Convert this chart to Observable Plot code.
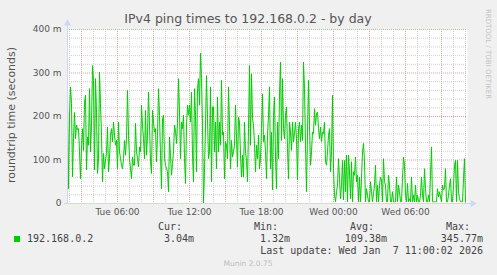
<!DOCTYPE html>
<html><head><meta charset="utf-8">
<script src="https://cdn.jsdelivr.net/npm/d3@7"></script>
<script src="https://cdn.jsdelivr.net/npm/@observablehq/plot@0.6"></script>
<style>
html,body{margin:0;padding:0;background:#f0f0f0;}
#c{position:relative;width:497px;height:275px;overflow:hidden;font-family:"DejaVu Sans",sans-serif;color:#555;}
#c svg{position:absolute;left:0;top:0;}
.t{position:absolute;white-space:pre;line-height:1;}
.m{font-family:"DejaVu Sans Mono",monospace;font-size:10px;color:#444;}
</style></head><body><div id="c"></div>
<script>
const title = "IPv4 ping times to 192.168.0.2 - by day";
const yLabel = "roundtrip time (seconds)";
const seriesName = "192.168.0.2";
const startTime = "2026-01-06T01:50:00Z";
const endTime = "2026-01-07T11:10:00Z";
const stepMinutes = 5;
// roundtrip times in milliseconds, one sample per 5 minutes
const rttMs = [
226,34,200,268,230,61,150,209,149,180,170,172,120,57,130,172,122,233,249,77,153,134,264,119,180,317,283,77,287,210,69,103,302,230,157,50,115,80,100,115,176,73,103,157,172,142,187,157,134,145,80,187,119,103,88,80,103,145,111,149,260,157,103,80,57,107,88,
88,184,119,103,84,130,119,226,180,149,103,214,111,157,256,180,96,69,214,187,164,172,96,157,264,203,111,34,195,203,103,88,80,73,27,153,111,65,92,119,180,168,138,187,287,210,103,187,172,203,103,46,180,226,203,226,187,256,111,50,264,203,73,264,287,226,346,287,
180,1.32,80,180,294,195,103,119,268,50,222,222,119,187,80,245,119,187,134,283,157,164,57,142,134,103,268,180,80,145,107,119,134,226,149,84,199,187,111,61,111,61,187,119,99,50,172,317,134,298,195,180,138,73,134,103,157,80,103,172,252,142,157,119,57,157,203,268,
80,164,31,203,245,107,34,187,103,252,325,145,287,172,149,203,222,126,57,187,164,122,187,142,161,187,149,54,172,187,142,180,145,325,264,134,27,164,283,180,88,119,164,161,218,180,207,210,172,149,176,142,164,161,187,96,88,119,157,172,73,119,249,80,19,4,27,42,
103,57,11,42,99,8,99,27,111,4,111,73,11,96,4,73,65,107,50,65,4,61,4,57,119,138,96,4,34,19,4,4,50,27,4,23,42,88,4,42,4,42,61,54,4,103,50,42,4,4,65,42,4,4,27,4,4,4,61,4,42,27,4,4,57,107,88,19,
4,46,4,11,4,61,4,19,4,42,4,19,4,4,19,61,19,4,80,34,4,4,19,4,65,130,4,4,4,4,4,34,15,27,15,4,42,31,34,80,4,4,19,42,57,4,4,42,88,99,4,99,27,11,4,4,4,57,103,3.04
];
const yTicks = [0, 100, 200, 300, 400];
const yTickLabels = ["0", "100 m", "200 m", "300 m", "400 m"];
const xTickTimes = ["2026-01-06T06:00:00Z", "2026-01-06T12:00:00Z", "2026-01-06T18:00:00Z", "2026-01-07T00:00:00Z", "2026-01-07T06:00:00Z"];
const xTickLabels = ["Tue 06:00", "Tue 12:00", "Tue 18:00", "Wed 00:00", "Wed 06:00"];
const statLabels = ["Cur:", "Min:", "Avg:", "Max:"];
const statValues = ["3.04m", "1.32m", "109.38m", "345.77m"];
const lastUpdate = "Last update: Wed Jan  7 11:00:02 2026";
const footer = "Munin 2.0.75";
const credit = "RRDTOOL / TOBI OETIKER";

const t0 = new Date(startTime), t1 = new Date(endTime);
const data = rttMs.map((v, i) => ({time: new Date(+t0 + i * stepMinutes * 60000), v}));
const xTicks = xTickTimes.map(d => new Date(d));
const minorY = d3.range(20, 401, 20).filter(v => v % 100 !== 0);
const majorY = yTicks.filter(v => v > 0);
const hours = d3.utcHour.range(t0, t1);
const minorX = hours.filter(d => d.getUTCHours() % 3 !== 0);
const majorX = hours.filter(d => d.getUTCHours() % 3 === 0);
const axisColor = "#CFD6F8";

const chart = Plot.plot({
  width: 497, height: 275,
  marginLeft: 67, marginRight: 30, marginTop: 29, marginBottom: 72,
  style: {background: "transparent", fontFamily: "DejaVu Sans", fontSize: "9px", color: "#555", overflow: "visible"},
  x: {type: "utc", domain: [t0, t1], axis: null},
  y: {domain: [0, 400], axis: null},
  marks: [
    Plot.frame({fill: "white", stroke: null}),
    Plot.ruleY(minorY, {stroke: "#cfcfcf", strokeDasharray: "1,1"}),
    Plot.ruleX(minorX, {stroke: "#cfcfcf", strokeDasharray: "1,1"}),
    Plot.ruleY(majorY, {stroke: "#e8a0a0", strokeDasharray: "1,1"}),
    Plot.ruleX(majorX, {stroke: "#e8a0a0", strokeDasharray: "1,1"}),
    Plot.line(data, {x: "time", y: "v", stroke: "#00cc00", strokeWidth: 1}),
    Plot.ruleX([t0], {y1: 0, y2: 414, stroke: axisColor}),
    Plot.ruleY([0], {x1: new Date(+t0 - 15 * 60000), x2: new Date(+t1 + 25 * 60000), stroke: axisColor}),
    Plot.dot([t0], {x: d => d, y: () => 414, symbol: "triangle", r: 2.6, fill: axisColor, stroke: null}),
    Plot.dot([t1], {x: d => new Date(+d + 27 * 60000), y: () => 0, symbol: "triangle", rotate: 90, r: 2.6, fill: axisColor, stroke: null}),
    Plot.axisY(yTicks, {anchor: "left", tickSize: 0, tickPadding: 6, label: null, tickFormat: d => yTickLabels[yTicks.indexOf(d)], fill: "#555"}),
    Plot.axisX(xTicks, {anchor: "bottom", tickSize: 0, tickPadding: 5, label: null, tickFormat: d => xTickLabels[xTicks.findIndex(t => +t === +d)], fill: "#555"})
  ]
});
const c = document.getElementById("c");
c.appendChild(chart);

function add(text, css, cls) {
  const e = document.createElement("div");
  e.className = "t" + (cls ? " " + cls : "");
  e.textContent = text;
  Object.assign(e.style, css);
  c.appendChild(e);
  return e;
}
add(title, {left: "248px", top: "13px", fontSize: "12.5px", transform: "translateX(-50%)", color: "#555"});
add(yLabel, {left: "11px", top: "115px", fontSize: "11px", transform: "translate(-50%,-50%) rotate(-90deg)", color: "#555"});
add(credit, {left: "487px", top: "54px", fontSize: "7px", transform: "translate(-50%,-50%) rotate(90deg)", color: "#c4c4c4"});
// legend
const sq = document.createElement("div");
Object.assign(sq.style, {position: "absolute", left: "14px", top: "236px", width: "6px", height: "6px", background: "#00cc00"});
c.appendChild(sq);
add(seriesName, {left: "27px", top: "234px"}, "m");
const labelRight = [315, 219, 123, 27];
const valueRight = [303, 207, 110, 14];
statLabels.forEach((s, i) => add(s, {right: labelRight[i] + "px", top: "222px"}, "m"));
statValues.forEach((s, i) => add(s, {right: valueRight[i] + "px", top: "234px"}, "m"));
add(lastUpdate, {right: "14px", top: "246px"}, "m");
add(footer, {left: "248px", top: "260px", fontSize: "7.5px", transform: "translateX(-50%)", color: "#bdbdbd"});
</script>
</body></html>
